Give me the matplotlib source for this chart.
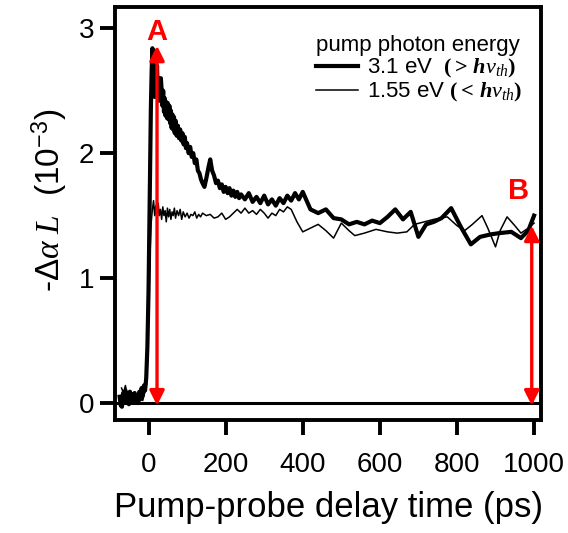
import numpy as np
import matplotlib
matplotlib.use("Agg")
import matplotlib.pyplot as plt
from matplotlib.lines import Line2D

plt.rcParams['font.family'] = ['Liberation Sans', 'DejaVu Sans']
plt.rcParams['mathtext.fontset'] = 'custom'
plt.rcParams['mathtext.rm'] = 'Liberation Sans'
plt.rcParams['mathtext.it'] = 'Liberation Serif:italic'
plt.rcParams['mathtext.bf'] = 'Liberation Serif:bold'
plt.rcParams['mathtext.bfit'] = 'Liberation Serif:bold:italic'

# 3.1 eV pump (thick line)
t_hi = [-75, -72, -69, -66, -63, -60, -57, -54, -51, -48, -45, -42, -39, -36, -33,
        -30, -27, -24, -21, -18, -15, -12, -9, -6, -3,
        0, 2, 4, 6, 8, 10, 12, 14, 16, 18, 20, 22, 24, 26, 28, 30, 32, 34, 36, 38, 40,
        42, 44, 46, 48, 50, 52, 54, 56, 58, 60, 62, 64, 66, 68, 70,
        73, 76, 79, 82, 85, 88, 91, 94, 97,
        100, 104, 108, 112, 116, 120, 124, 128, 132, 136, 140,
        145, 150, 155, 160, 165, 170, 175, 180, 185, 190, 195, 200, 205, 210, 215,
        220, 225, 230, 235, 240,
        250, 260, 270, 280, 290, 300, 310, 320, 330, 340, 350, 360, 370, 380, 390,
        400, 410, 420,
        440, 460, 480, 500, 520, 540, 560, 580, 600, 620, 640, 660, 680, 700, 720,
        740, 760,
        785, 810, 836, 860, 888, 910, 941, 966, 985, 1000]
s_hi = [0.05, -0.02, -0.03, 0.08, 0.02, 0.10, 0.01, 0.06, -0.01, 0.09, 0.03, 0.07,
        0.00, 0.08, 0.02, 0.05, 0.01, 0.09, 0.03, 0.12, 0.06, 0.14, 0.10, 0.20, 0.45,
        0.90, 1.40, 1.90, 2.35, 2.65, 2.84, 2.78, 2.55, 2.45, 2.62, 2.50, 2.70, 2.48,
        2.60, 2.42, 2.55, 2.60, 2.50, 2.38, 2.50, 2.33,
        2.44, 2.30, 2.41, 2.28, 2.40, 2.27, 2.38, 2.24, 2.34, 2.20, 2.31, 2.19, 2.29,
        2.16, 2.26,
        2.14, 2.22, 2.12, 2.19, 2.10, 2.16, 2.07, 2.13, 2.04,
        2.08, 2.00, 2.05, 1.97, 2.00, 1.92, 1.95, 1.86, 1.84, 1.79, 1.76,
        1.73, 1.80, 1.88, 1.95, 1.86, 1.82, 1.76, 1.78, 1.72, 1.75, 1.69, 1.73, 1.68,
        1.72, 1.66, 1.70, 1.65, 1.69, 1.64, 1.67,
        1.63, 1.68, 1.61, 1.65, 1.60, 1.66, 1.59, 1.63, 1.58, 1.64, 1.60, 1.66, 1.62,
        1.68, 1.63, 1.69, 1.62, 1.55,
        1.52, 1.55, 1.48, 1.47, 1.43, 1.45, 1.43, 1.46, 1.44, 1.49, 1.55, 1.47, 1.53,
        1.33, 1.43, 1.45, 1.48,
        1.56, 1.41, 1.27, 1.33, 1.35, 1.36, 1.37, 1.32, 1.38, 1.50]

# 1.55 eV pump (thin line)
t_lo = [-70, -65, -60, -55, -50, -45, -40, -35, -30, -25, -20, -15, -10, -5, -2,
        1, 4, 7, 10, 13, 16, 19, 22, 25, 28, 31, 34, 37, 40, 43, 46, 49, 52, 55,
        58, 61, 64, 67, 70, 74, 78, 82, 86, 90, 95, 100, 105, 110, 115, 120, 125,
        130, 135, 140, 150, 160, 170, 180, 190, 200, 210, 220, 230, 240, 250, 260,
        270, 280, 290, 300, 310, 320, 330, 340, 350, 360, 370, 385, 400, 420, 440,
        460, 480, 500, 520, 535, 560, 590, 620, 645, 670, 690, 715, 740, 775, 800,
        820, 840, 865, 880, 900, 912, 930, 950, 966, 985, 1000]
s_lo = [0.12, 0.08, 0.14, 0.06, 0.10, 0.03, 0.08, 0.02, 0.06, 0.00, 0.05, 0.02,
        0.08, 0.15, 0.40, 0.85, 1.20, 1.45, 1.55, 1.62, 1.50, 1.58, 1.46, 1.60,
        1.50, 1.55, 1.47, 1.57, 1.50, 1.54, 1.45, 1.56, 1.49, 1.55, 1.47, 1.53,
        1.50, 1.56, 1.48, 1.54, 1.50, 1.55, 1.47, 1.53, 1.49, 1.52, 1.48, 1.51,
        1.50, 1.53, 1.48, 1.51, 1.49, 1.52, 1.50, 1.51, 1.48, 1.49, 1.52, 1.47,
        1.49, 1.52, 1.55, 1.52, 1.56, 1.52, 1.54, 1.51, 1.55, 1.52, 1.48, 1.52,
        1.50, 1.55, 1.53, 1.57, 1.55, 1.45, 1.37, 1.40, 1.43, 1.38, 1.32, 1.44,
        1.38, 1.34, 1.36, 1.39, 1.37, 1.36, 1.37, 1.43, 1.45, 1.47, 1.49, 1.42,
        1.38, 1.43, 1.50, 1.40, 1.25, 1.38, 1.49, 1.42, 1.36, 1.40, 1.44]

xticks = [0, 200, 400, 600, 800, 1000]
yticks = [0, 1, 2, 3]

fig = plt.figure(figsize=(5.68, 5.33), dpi=100)
ax = fig.add_axes([115 / 568, 1 - 420 / 533, 426 / 568, 413 / 533])

ax.plot(t_hi, s_hi, color='black', lw=3.0, solid_joinstyle='round')
ax.plot(t_lo, s_lo, color='black', lw=1.1)
ax.axhline(0, color='black', lw=2.2)

# red double arrows
for xa, ya in [(22, 2.86), (994, 1.42)]:
    ax.annotate('', xy=(xa, ya), xytext=(xa, -0.02),
                arrowprops=dict(arrowstyle='<|-|>', color='#ff0000', lw=2.4,
                                mutation_scale=22, shrinkA=0, shrinkB=0))
ax.text(22, 2.97, 'A', color='#ff0000', fontsize=21, fontweight='bold',
        ha='center', va='center')
ax.text(961, 1.70, 'B', color='#ff0000', fontsize=21, fontweight='bold',
        ha='center', va='center')

ax.set_xlim(-87, 1018)
ax.set_ylim(-0.136, 3.17)
ax.set_xticks(xticks)
ax.set_yticks(yticks)
ax.tick_params(direction='out', length=11, width=2.8, labelsize=20)
ax.tick_params(axis='x', pad=12)
ax.tick_params(axis='y', pad=4)
for sp in ax.spines.values():
    sp.set_linewidth(2.8)

fig.text(328 / 568, 1 - 508 / 533, 'Pump-probe delay time (ps)', fontsize=25,
         ha='center', va='center')
fig.text(50 / 568, 1 - 200 / 533, r'-$\mathit{\Delta\alpha}\ \mathit{L}$  (10$^{-3}$)',
         fontsize=24, rotation=90, ha='center', va='center')

handles = [Line2D([], [], color='black', lw=3.0), Line2D([], [], color='black', lw=1.1)]
labels = [r'3.1 eV  $\mathbf{(>}\,\boldsymbol{h\nu_{th}}\mathbf{)}$',
          r'1.55 eV $\mathbf{(<}\,\boldsymbol{h\nu_{th}}\mathbf{)}$']
leg = ax.legend(handles, labels, title='pump photon energy', loc='upper left',
                bbox_to_anchor=(316 / 568, 1 - 35 / 533), bbox_transform=fig.transFigure,
                frameon=False, fontsize=16, title_fontsize=16, handlelength=1.9,
                handletextpad=0.4, labelspacing=0.05, borderpad=0, borderaxespad=0)
leg._legend_box.align = 'left'

fig.savefig('out.png', dpi=100)
